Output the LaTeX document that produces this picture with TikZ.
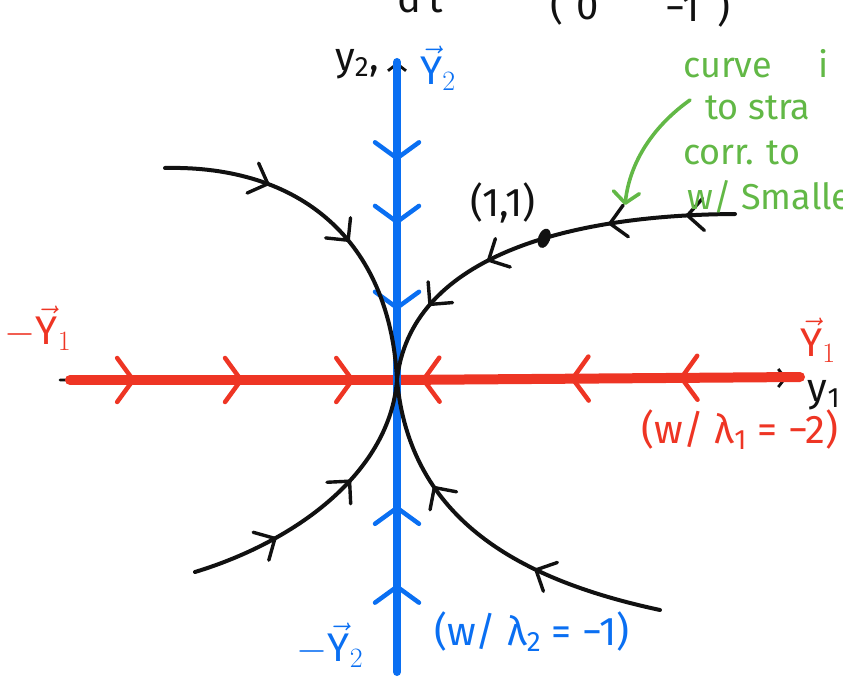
\RequirePackage{fix-cm}
\documentclass[tikz,border=0pt]{standalone}
\usepackage{fontspec}
\setmainfont{Fira Sans}
\usepackage{tikz}
\usetikzlibrary{arrows.meta, decorations.markings}
\definecolor{ink}{HTML}{111111}
\definecolor{eigred}{HTML}{EE3524}
\definecolor{eigblue}{HTML}{0A6FF2}
\definecolor{notegreen}{HTML}{62B846}
\tikzset{
  chev/.tip      = {Straight Barb[length=16pt, width=32pt, line width=3.4pt, round]},
  chevbig/.tip   = {Straight Barb[length=16pt, width=44pt, line width=4.5pt, round]},
  axisline/.style = {draw=ink, line width=2.8pt, line cap=round},
  redline/.style  = {draw=eigred, line width=10pt, line cap=round},
  blueline/.style = {draw=eigblue, line width=8pt, line cap=round},
  traj/.style     = {draw=ink, line width=4pt, line cap=round},
  pointer/.style  = {draw=notegreen, line width=3.6pt, line cap=round, -{Straight Barb[length=11pt, width=26pt, round]}},
  fl/.style       = {postaction={decorate, decoration={markings, mark=at position #1 with {\arrow{chev}}}}},
  flb/.style      = {postaction={decorate, decoration={markings, mark=at position #1 with {\arrow{chevbig}}}}},
  lbl/.style      = {font=\fontsize{40}{44}\selectfont, inner sep=0pt},
  greennote/.style = {font=\fontsize{36}{40}\selectfont, inner sep=0pt, text=notegreen, anchor=base west},
}

\begin{document}
\begin{tikzpicture}[x=1pt, y=-1pt]
  \useasboundingbox (0,0) rectangle (843,679);
  \clip (0,0) rectangle (843,679);

  \coordinate (O) at (397,380);
  \coordinate (xl) at (60,380);
  \coordinate (xr) at (787,378);
  \coordinate (yb) at (397,672);
  \coordinate (yt) at (397,62);

  % axes
  \draw[axisline, -{Straight Barb[length=7pt, width=18pt]}] (xl) -- (xr);
  \draw[axisline, -{Straight Barb[length=7pt, width=18pt]}] (yb) -- (yt);

  % straight-line solutions
  \coordinate (rl) at (70,380);
  \coordinate (rr) at (800,377);
  \draw[redline, flb=0.2, flb=0.53, flb=0.87] (rl) -- (O);
  \draw[redline, flb=0.3, flb=0.57, flb=0.94] (rr) -- (O);
  \draw[blueline, flb=0.31, flb=0.51, flb=0.78] (yt) -- (O);
  \draw[blueline, flb=0.3, flb=0.57] (yb) -- (O);

  % other trajectories
  \coordinate (a1) at (165,168);
  \coordinate (b1) at (735,214);
  \coordinate (c1) at (195,572);
  \coordinate (d1) at (660,610);
  \draw[traj, fl=0.3, fl=0.58] (a1) .. controls (300,165) and (390,240) .. (O);
  \draw[traj, fl=0.12, fl=0.31, fl=0.62, fl=0.8] (b1) .. controls (560,215) and (410,260) .. (O)
    coordinate[pos=0.4] (p11);
  \draw[traj, fl=0.3, fl=0.62] (c1) .. controls (300,540) and (390,470) .. (O);
  \draw[traj, fl=0.35, fl=0.7] (d1) .. controls (520,580) and (410,520) .. (O);
  \fill[ink, rotate around={-20:(p11)}] (p11) ellipse (6pt and 10pt);
  \node[lbl, text=ink] (pt) at (503,203) {(1,1)};

  % labels
  \node[lbl, text=ink] (ytwo) at (357,64) {y\textsubscript{2},};
  \node[lbl, text=eigblue] (Ytwo) at (438,68) {$\vec{\mbox{Y}}_2$};
  \node[lbl, text=eigblue] (negYtwo) at (330,645) {$-\vec{\mbox{Y}}_2$};
  \node[lbl, text=eigblue] (lamtwo) at (532,632) {(w/ λ\textsubscript{2} = −1)};
  \node[lbl, text=eigred] (negYone) at (38,328) {$-\vec{\mbox{Y}}_1$};
  \node[lbl, text=eigred] (Yone) at (818,340) {$\vec{\mbox{Y}}_1$};
  \node[lbl, text=ink] (yone) at (824,395) {y\textsubscript{1}};
  \node[lbl, text=eigred] (lamone) at (740,430) {(w/ λ\textsubscript{1} = −2)};

  % cut-off equation at the top
  \node[lbl, text=ink, anchor=base] (dt) at (420,13) {d\,t};
  \node[lbl, text=ink, anchor=base west] (rowl) at (550,20) {(\,\,0};
  \node[lbl, text=ink, anchor=base west] (rowr) at (665,22) {−1\;\,)};

  % note
  \node[greennote] (n1) at (683,78) {curve\hspace{1.3em}i};
  \node[greennote] (n2) at (705,120) {to stra};
  \node[greennote] (n3) at (683,165) {corr. to};
  \node[greennote] (n4) at (687,210) {w/ Smalle};
  \coordinate (g0) at (690,100);
  \coordinate (g1) at (625,205);
  \draw[pointer] (g0) .. controls (655,125) and (630,160) .. (g1);
\end{tikzpicture}
\end{document}
